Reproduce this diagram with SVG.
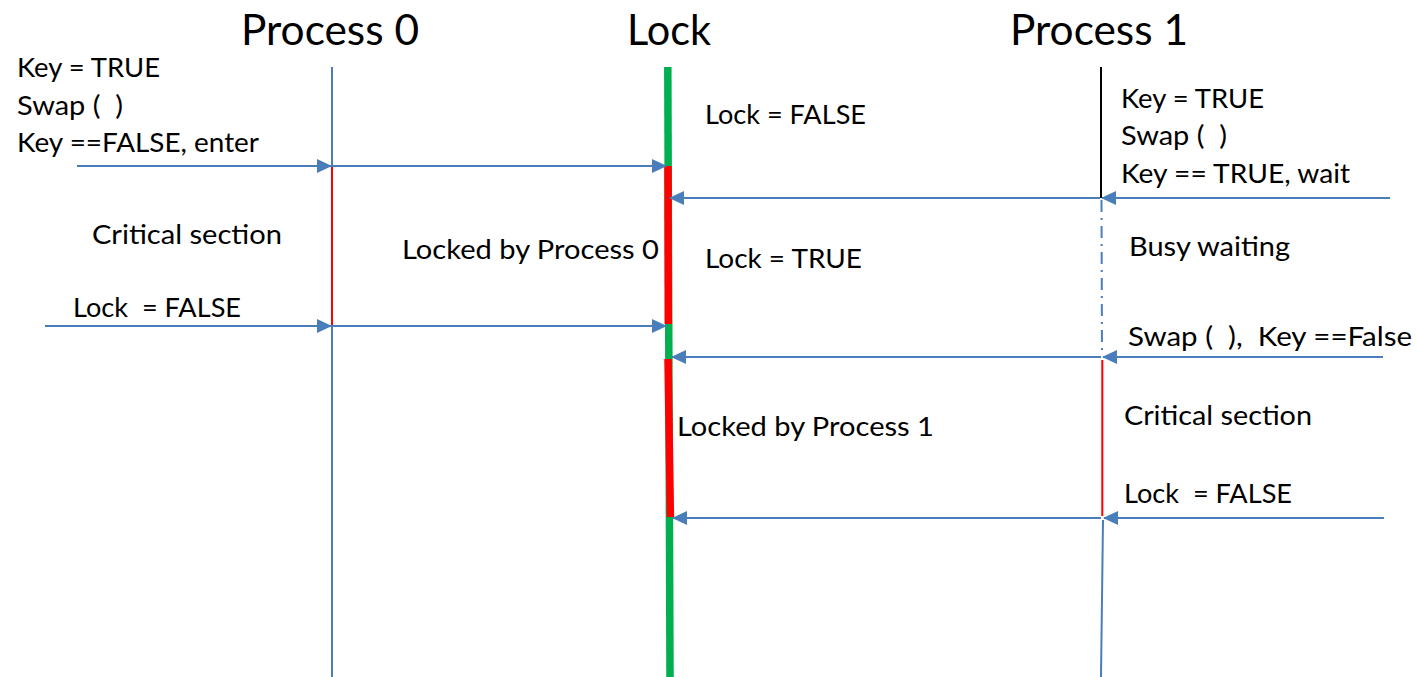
<svg xmlns="http://www.w3.org/2000/svg" width="1418" height="677" viewBox="0 0 1418 677">
  <style>
    text { font-family: Lato, "Noto Sans", "Liberation Sans", sans-serif; fill: #000; white-space: pre; }
    .title { font-size: 43px; }
    .label { font-size: 26.5px; }
    .msg { stroke: #4A7EBB; stroke-width: 2; fill: none; }
    .life { stroke: #4A7EBB; stroke-width: 2; fill: none; }
    .crit { stroke: #FF0000; stroke-width: 2; fill: none; }
    .lockfree { stroke: #00B050; stroke-width: 7.5; fill: none; }
    .lockheld { stroke: #FF0000; stroke-width: 7.5; fill: none; }
  </style>
  <defs>
    <marker id="ah" viewBox="0 0 15 14" refX="14" refY="7" markerWidth="15" markerHeight="14" markerUnits="userSpaceOnUse" orient="auto">
      <path d="M0,0 L15,7 L0,14 z" fill="#4A7EBB"/>
    </marker>
  </defs>
  <rect width="1418" height="677" fill="#fff"/>

  <!-- Process 0 timeline -->
  <g id="process0">
    <text class="title" x="241" y="45" textLength="178" lengthAdjust="spacingAndGlyphs">Process 0</text>
    <line class="life" x1="332" y1="67" x2="332" y2="677"/>
    <line class="crit" x1="332" y1="167" x2="332" y2="325"/>
    <text class="label" x="17" y="77" textLength="143" lengthAdjust="spacingAndGlyphs">Key = TRUE</text>
    <text class="label" x="17" y="115" textLength="106" lengthAdjust="spacingAndGlyphs">Swap (  )</text>
    <text class="label" x="17" y="152" textLength="242" lengthAdjust="spacingAndGlyphs">Key ==FALSE, enter</text>
    <text class="label" x="92" y="244" textLength="190" lengthAdjust="spacingAndGlyphs">Critical section</text>
    <text class="label" x="73" y="317" textLength="168" lengthAdjust="spacingAndGlyphs">Lock  = FALSE</text>
  </g>

  <!-- Lock variable timeline: green = free, red = held -->
  <g id="lock">
    <text class="title" x="627" y="45" textLength="84" lengthAdjust="spacingAndGlyphs">Lock</text>
    <line class="lockfree" x1="667.8" y1="67" x2="670" y2="677"/>
    <line class="lockheld" x1="668" y1="166" x2="668.3" y2="324"/>
    <line class="lockheld" x1="668" y1="359" x2="670.4" y2="517"/>
    <text class="label" x="705" y="124" textLength="161" lengthAdjust="spacingAndGlyphs">Lock = FALSE</text>
    <text class="label" x="402" y="259" textLength="257" lengthAdjust="spacingAndGlyphs">Locked by Process 0</text>
    <text class="label" x="705" y="268" textLength="157" lengthAdjust="spacingAndGlyphs">Lock = TRUE</text>
    <text class="label" x="677" y="436" textLength="257" lengthAdjust="spacingAndGlyphs">Locked by Process 1</text>
  </g>

  <!-- Process 1 timeline -->
  <g id="process1">
    <text class="title" x="1010" y="45" textLength="178" lengthAdjust="spacingAndGlyphs">Process 1</text>
    <line x1="1101" y1="67" x2="1101" y2="198" stroke="#000" stroke-width="2"/>
    <line class="life" x1="1101.5" y1="200" x2="1102" y2="356" stroke-width="1.5" stroke-dasharray="12 6 2 6"/>
    <line class="crit" x1="1102.3" y1="360" x2="1102.3" y2="516"/>
    <line class="life" x1="1103" y1="520" x2="1101" y2="677"/>
    <text class="label" x="1121" y="108" textLength="143" lengthAdjust="spacingAndGlyphs">Key = TRUE</text>
    <text class="label" x="1121" y="145" textLength="106" lengthAdjust="spacingAndGlyphs">Swap (  )</text>
    <text class="label" x="1121" y="183" textLength="229" lengthAdjust="spacingAndGlyphs">Key == TRUE, wait</text>
    <text class="label" x="1129" y="256" textLength="161" lengthAdjust="spacingAndGlyphs">Busy waiting</text>
    <text class="label" x="1128" y="346" textLength="284" lengthAdjust="spacingAndGlyphs">Swap (  ),  Key ==False</text>
    <text class="label" x="1124" y="425" textLength="188" lengthAdjust="spacingAndGlyphs">Critical section</text>
    <text class="label" x="1124" y="503" textLength="168" lengthAdjust="spacingAndGlyphs">Lock  = FALSE</text>
  </g>

  <!-- Messages -->
  <g id="connectors">
    <line class="msg" x1="77" y1="166" x2="331" y2="166" marker-end="url(#ah)"/>
    <line class="msg" x1="332" y1="166" x2="666" y2="166" marker-end="url(#ah)"/>
    <line class="msg" x1="1390" y1="198" x2="1102" y2="198" marker-end="url(#ah)"/>
    <line class="msg" x1="1100" y1="198" x2="670" y2="198" marker-end="url(#ah)"/>
    <line class="msg" x1="45" y1="326" x2="331" y2="326" marker-end="url(#ah)"/>
    <line class="msg" x1="332" y1="326" x2="666" y2="326" marker-end="url(#ah)"/>
    <line class="msg" x1="1383" y1="357" x2="1103" y2="357" marker-end="url(#ah)"/>
    <line class="msg" x1="1101" y1="357" x2="672" y2="357" marker-end="url(#ah)"/>
    <line class="msg" x1="1384" y1="518" x2="1104" y2="518" marker-end="url(#ah)"/>
    <line class="msg" x1="1101" y1="518" x2="673" y2="518" marker-end="url(#ah)"/>
  </g>
</svg>
